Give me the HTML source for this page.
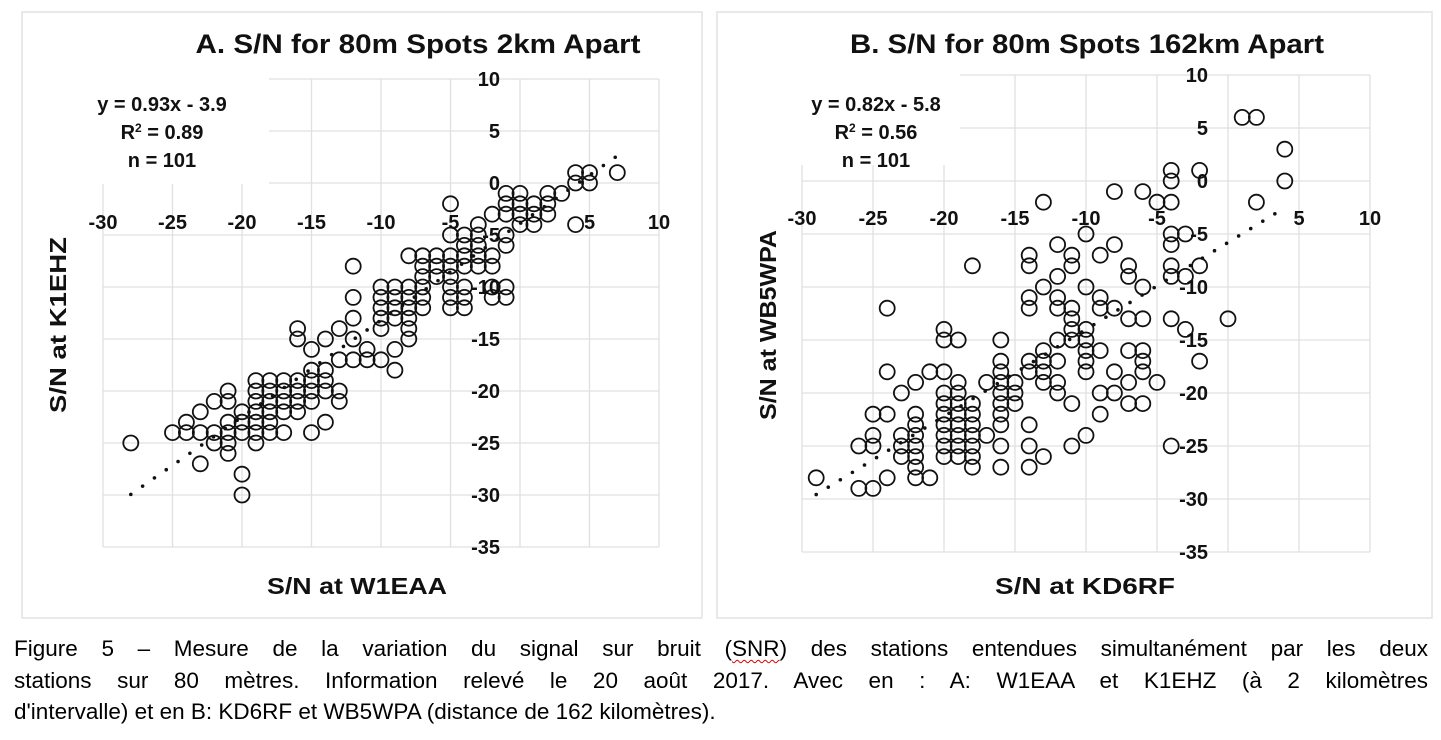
<!DOCTYPE html>
<html><head><meta charset="utf-8"><style>
html,body{margin:0;padding:0;background:#fff;}
svg{display:block;}
text{font-family:"Liberation Sans",Arial,sans-serif;}
.b{font-weight:bold;fill:#111;}
.cap{position:absolute;left:14px;top:633px;width:1414px;font-family:"Liberation Sans",Arial,sans-serif;font-size:22.5px;line-height:31.5px;color:#000;}
.cap div{text-align:justify;text-align-last:justify;white-space:nowrap;}
.cap div.last{text-align-last:left;}
.snr{text-decoration:underline wavy #d00;text-decoration-thickness:1px;text-underline-offset:3px;}
</style></head><body>
<div style="position:relative;width:1441px;height:740px;overflow:hidden;">
<svg id="chart" width="1441" height="740"></svg>
<div class="cap">
<div style="white-space:normal">Figure 5 – Mesure de la variation du signal sur bruit (<span class="snr">SNR</span>) des stations entendues simultanément par les deux</div>
<div style="white-space:normal">stations sur 80 mètres. Information relevé le 20 août 2017. Avec en : A: W1EAA et K1EHZ (à 2 kilomètres</div>
<div class="last">d'intervalle) et en B: KD6RF et WB5WPA (distance de 162 kilomètres).</div>
</div>
</div>
<script>
const xTicks=[-30,-25,-20,-15,-10,-5,0,5,10];
const yTicks=[10,5,0,-5,-10,-15,-20,-25,-30,-35];
const seriesA=[[-28,-25],[-25,-24],[-24,-23],[-24,-24],[-23,-22],[-23,-24],[-23,-27],[-22,-21],[-22,-24],[-22,-25],[-21,-20],[-21,-21],[-21,-23],[-21,-24],[-21,-25],[-21,-26],[-20,-22],[-20,-23],[-20,-24],[-20,-28],[-20,-30],
[-19,-19],[-19,-20],[-19,-21],[-19,-22],[-19,-23],[-19,-24],[-19,-25],[-18,-19],[-18,-20],[-18,-21],[-18,-22],[-18,-23],[-18,-24],[-17,-19],[-17,-20],[-17,-21],[-17,-22],[-17,-24],
[-16,-19],[-16,-20],[-16,-21],[-16,-22],[-15,-18],[-15,-19],[-15,-20],[-15,-21],[-15,-24],[-14,-18],[-14,-19],[-14,-20],[-14,-23],[-13,-20],[-13,-21],
[-16,-14],[-16,-15],[-15,-16],[-14,-15],[-13,-14],[-13,-17],[-12,-17],[-11,-17],[-10,-17],[-12,-15],[-12,-13],[-12,-11],[-12,-8],[-11,-16],
[-10,-10],[-10,-11],[-10,-12],[-10,-13],[-10,-14],[-9,-10],[-9,-11],[-9,-12],[-9,-13],[-9,-16],[-9,-18],[-8,-10],[-8,-11],[-8,-12],[-8,-13],[-8,-14],[-8,-15],
[-8,-7],[-7,-7],[-7,-8],[-7,-9],[-7,-10],[-7,-11],[-7,-12],[-6,-7],[-6,-8],[-6,-9],[-5,-7],[-5,-8],[-5,-9],[-5,-10],[-5,-11],[-5,-12],[-4,-10],[-4,-11],[-4,-12],
[-5,-2],[-5,-5],[-4,-5],[-4,-6],[-4,-7],[-4,-8],[-3,-4],[-3,-5],[-3,-6],[-3,-7],[-3,-8],[-2,-3],[-2,-7],[-2,-8],[-2,-10],[-2,-11],[-1,-5],[-1,-6],[-1,-10],[-1,-11],
[-1,-1],[-1,-2],[-1,-3],[0,-1],[0,-2],[0,-3],[0,-4],[1,-2],[1,-3],[1,-4],[2,-1],[2,-2],[2,-3],[3,-1],[4,1],[4,0],[5,1],[5,0],[7,1],[4,-4]];
const seriesB=[[1,6],[2,6],[4,3],[4,0],[-4,1],[-4,0],[-4,-2],[-2,1],[-8,-1],[-6,-1],[-5,-2],[-13,-2],[2,-2],[-10,-5],[-4,-5],[-4,-6],[-3,-5],[-12,-6],[-8,-6],[-18,-8],[-14,-7],[-14,-8],[-11,-7],[-11,-8],[-9,-7],[-7,-8],[-7,-9],[-4,-8],[-4,-9],[-3,-9],[-2,-8],[-12,-9],[-13,-10],[-10,-10],[-6,-10],[-14,-11],[-14,-12],[-12,-11],[-12,-12],[-11,-12],[-11,-13],[-9,-11],[-9,-12],[-8,-12],[-24,-12],[0,-13],
[-11,-14],[-11,-15],[-10,-14],[-10,-15],[-10,-16],[-10,-17],[-10,-18],[-7,-13],[-6,-13],[-4,-13],[-3,-14],[-20,-14],[-20,-15],[-19,-15],[-16,-15],[-16,-17],[-16,-18],[-16,-19],[-16,-20],[-16,-21],[-16,-22],[-16,-23],[-16,-25],[-16,-27],[-12,-15],[-13,-16],[-13,-17],[-13,-18],[-13,-19],[-14,-17],[-14,-18],[-12,-17],[-12,-19],[-12,-20],[-9,-16],[-7,-16],[-6,-16],[-6,-17],[-6,-18],[-8,-18],[-7,-19],[-5,-19],[-2,-17],[-9,-20],[-8,-20],[-7,-21],[-6,-21],[-11,-21],[-9,-22],[-10,-24],[-11,-25],[-4,-25],[-24,-18],[-21,-18],[-20,-18],[-22,-19],[-23,-20],
[-19,-19],[-19,-20],[-19,-21],[-19,-22],[-19,-23],[-19,-24],[-19,-25],[-19,-26],[-20,-20],[-20,-21],[-20,-22],[-20,-23],[-20,-24],[-20,-25],[-20,-26],[-18,-21],[-18,-22],[-18,-23],[-18,-24],[-18,-25],[-18,-26],[-18,-27],[-17,-19],[-17,-24],[-15,-19],[-15,-20],[-15,-21],[-14,-23],[-14,-25],[-14,-27],[-13,-26],[-25,-22],[-24,-22],[-22,-22],[-22,-23],[-22,-24],[-22,-25],[-22,-26],[-22,-27],[-22,-28],[-23,-24],[-23,-25],[-23,-26],[-25,-24],[-25,-25],[-26,-25],[-21,-28],[-24,-28],[-26,-29],[-25,-29],[-29,-28]];
const trendA=[0.93,-3.9,-28,7];
const trendB=[0.82,-5.8,-29,4];
const NS='http://www.w3.org/2000/svg';
const svg=document.getElementById('chart');
function mk(tag,attrs,parent){const e=document.createElementNS(NS,tag);for(const k in attrs)e.setAttribute(k,attrs[k]);(parent||svg).appendChild(e);return e;}
function chart(cfg){
  const g=mk('g',{});
  
  
  const X=v=>cfg.x0+cfg.sx*v, Y=v=>cfg.y0-cfg.sy*v;
  const fr=mk('rect',{x:cfg.px,y:12,width:cfg.pw,height:606,fill:'none',stroke:'#e2e2e2','stroke-width':1.5},g);
  
  
  const xl=X(-30),xr=X(10),yt=Y(10),yb=Y(-35);
  xTicks.forEach(v=>{const l=mk('line',{x1:X(v),x2:X(v),y1:yt,y2:yb,stroke:'#e0e0e0','stroke-width':1.3},g);
    
    });
  yTicks.forEach(v=>{const l=mk('line',{x1:xl,x2:xr,y1:Y(v),y2:Y(v),stroke:'#e0e0e0','stroke-width':1.3},g);
    
    });
  mk('rect',{x:xl-2,y:yt-3,width:cfg.boxW,height:cfg.boxH,fill:'#fff'},g);
  xTicks.forEach(v=>{if(v===0)return;const t=mk('text',{x:X(v),y:cfg.xly,'text-anchor':'middle','font-size':20,class:'b'},g);t.textContent=String(v);
    
    });
  yTicks.forEach(v=>{const t=mk('text',{x:X(0)-20,y:Y(v)+7,'text-anchor':'end','font-size':20,class:'b'},g);t.textContent=String(v);
    
    });
  const [m,b,a0,a1]=cfg.trend;
  for(let v=a0;v<=a1+0.001;v+=0.85){const d=mk('circle',{cx:X(v),cy:Y(m*v+b),r:1.8,fill:'#111'},g);
    
    }
  cfg.data.forEach(p=>{const c=mk('circle',{cx:X(p[0]),cy:Y(p[1]),r:7.5,fill:'none',stroke:'#111','stroke-width':1.8},g);
    
    });
  const ti=mk('text',{x:cfg.tx,y:53,'text-anchor':'middle','font-size':27,class:'b',textLength:cfg.tl,lengthAdjust:'spacingAndGlyphs'},g);ti.textContent=cfg.title;
  
  
  cfg.eq.forEach((s,i)=>{const t=mk('text',{x:cfg.ex,y:111+i*28,'text-anchor':'middle','font-size':20,class:'b'},g);t.innerHTML=s;
    
    });
  const xt=mk('text',{x:cfg.xtx,y:594,'text-anchor':'middle','font-size':23,class:'b',textLength:180,lengthAdjust:'spacingAndGlyphs'},g);xt.textContent=cfg.xtitle;
  
  
  const yti=mk('text',{x:0,y:0,'text-anchor':'middle','font-size':23,class:'b',textLength:cfg.ytl,lengthAdjust:'spacingAndGlyphs',transform:`translate(${cfg.ytx},325) rotate(-90)`},g);yti.textContent=cfg.ytitle;
  
  
}
chart({id:'a',px:22,pw:680,x0:520,sx:13.9,y0:183,sy:10.4,xly:229,boxW:168,boxH:108,trend:trendA,data:seriesA,tx:418,tl:445,title:'A.  S/N for 80m Spots 2km Apart',ex:162,eq:['y = 0.93x - 3.9','R<tspan font-size="12" dy="-7">2</tspan><tspan dy="7"> = 0.89</tspan>','n = 101'],xtitle:'S/N at W1EAA',xtx:357,ytitle:'S/N at K1EHZ',ytx:66,ytl:176});
chart({id:'b',px:717,pw:715,x0:1228,sx:14.2,y0:181,sy:10.6,xly:225,boxW:160,boxH:93,trend:trendB,data:seriesB,tx:1087,tl:474,title:'B.  S/N for 80m Spots 162km Apart',ex:876,eq:['y = 0.82x - 5.8','R<tspan font-size="12" dy="-7">2</tspan><tspan dy="7"> = 0.56</tspan>','n = 101'],xtitle:'S/N at KD6RF',xtx:1085,ytitle:'S/N at WB5WPA',ytx:776,ytl:190});
</script>
</body></html>
